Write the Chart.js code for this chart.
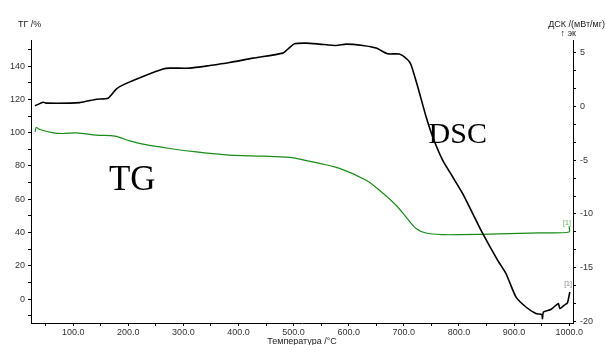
<!DOCTYPE html>
<html>
<head>
<meta charset="utf-8">
<script src="https://cdn.jsdelivr.net/npm/chart.js@4.4.1/dist/chart.umd.min.js"></script>
<style>
  html, body { margin: 0; padding: 0; background: #fff; }
  #wrap { width: 606px; height: 345px; }
</style>
</head>
<body>
<div id="wrap"><canvas id="c" width="606" height="345"></canvas></div>
<script>
// TG curve (left axis, %)
const tgTemp  = [31, 33, 39.7, 63.8, 81.9, 106.2, 142.4, 175.6, 202.7, 226.8, 275.1, 323.6, 383.9, 444.3, 492.6, 527.6, 534.9, 583.2, 631.6, 655.7, 686.0, 704.1, 722.2, 740.3, 770.4, 800.7, 873, 945.6, 999.9, 1000];
const tgValue = [100.5, 103.1, 101.9, 99.9, 99.5, 99.9, 98.5, 97.9, 95.1, 93.1, 90.5, 88.4, 86.5, 85.9, 85.1, 82.9, 82.4, 78.5, 71.4, 65.4, 56.4, 49.3, 42.4, 39.7, 38.7, 38.7, 39.2, 39.8, 40.3, 43.7];

// DSC curve (right axis, mW/mg)
const dscTemp  = [30.6, 45.6, 51.8, 112.1, 142.4, 163.4, 178.6, 190.6, 226.8, 263.1, 275.2, 311.5, 347.7, 383.9, 426.1, 480.5, 489.6, 501.7, 522.9, 547.0, 577.3, 595.4, 625.5, 649.7, 670.8, 691.9, 707.0, 713.1, 725.1, 740.3, 752.3, 770.4, 788.5, 806.6, 824.8, 839.9, 870.1, 885.3, 903.4, 921.5, 939.6, 950.5, 951.6, 953.4, 966.8, 975.9, 980.6, 983.1, 990.9, 996.9, 1001.2];
const dscValue = [0.07, 0.41, 0.32, 0.37, 0.69, 0.78, 1.65, 2.02, 2.80, 3.49, 3.58, 3.58, 3.82, 4.10, 4.51, 4.98, 5.35, 5.85, 5.91, 5.82, 5.69, 5.82, 5.69, 5.45, 4.92, 4.89, 4.36, 3.89, 1.87, -0.93, -2.80, -4.98, -6.53, -8.08, -9.94, -11.50, -14.30, -15.54, -17.72, -18.66, -19.27, -19.37, -19.74, -19.12, -18.90, -18.50, -18.34, -18.81, -18.50, -18.28, -17.26];

// tick labels
const tempTicks = [100, 200, 300, 400, 500, 600, 700, 800, 900, 1000];
const tgTicks   = [0, 20, 40, 60, 80, 100, 120, 140];
const dscTicks  = [-20, -15, -10, -5, 0, 5];

const pts = (xs, ys) => xs.map((x, i) => ({ x: x, y: ys[i] }));
const tickFont = { family: '"Liberation Sans", Arial, sans-serif', size: 9 };

// minor ticks between labelled ones
function withMinor(labels, parts, lo, hi) {
  let step = (labels[1] - labels[0]) / parts;
  let out = [];
  for (let v = labels[0] - 10 * step; v <= hi + 1e-9; v += step) {
    if (v >= lo - 1e-9) out.push(Math.round(v * 1000) / 1000);
  }
  return out;
}

const textPlugin = {
  id: 'texts',
  afterDraw(chart) {
    let ctx = chart.ctx, a = chart.chartArea;
    let x = chart.scales.x, y = chart.scales.y, y1 = chart.scales.y1;
    ctx.save();
    ctx.fillStyle = '#222';
    ctx.font = '9px "Liberation Sans", Arial, sans-serif';
    ctx.textBaseline = 'alphabetic';
    ctx.textAlign = 'left';
    ctx.fillText('ТГ /%', 18, 27);
    ctx.textAlign = 'right';
    ctx.fillText('ДСК /(мВт/мг)', 605, 27);
    ctx.fillText('↑ эк', 576, 36);
    ctx.textAlign = 'center';
    ctx.fillText('Температура /°C', (a.left + a.right) / 2, 344);

    // end markers
    ctx.font = '7px "Liberation Sans", Arial, sans-serif';
    ctx.fillStyle = '#5fb35f';
    ctx.fillText('[1]', x.getPixelForValue(996), y.getPixelForValue(44.5));
    ctx.fillStyle = '#888';
    ctx.fillText('[1]', x.getPixelForValue(998), y1.getPixelForValue(-16.7));

    // big annotations
    ctx.fillStyle = '#000';
    ctx.textAlign = 'left';
    ctx.font = '35px "Liberation Serif", "Times New Roman", serif';
    ctx.fillText('TG', x.getPixelForValue(165), y.getPixelForValue(65.5));
    ctx.font = '30px "Liberation Serif", "Times New Roman", serif';
    ctx.fillText('DSC', x.getPixelForValue(745), y1.getPixelForValue(-3.4));
    ctx.restore();
  }
};

let config = {
  type: 'line',
  data: {
    datasets: [{
      label: 'DSC',
      data: pts(dscTemp, dscValue),
      yAxisID: 'y1',
      borderColor: '#000',
      borderWidth: 1.6,
      pointRadius: 0,
      tension: 0.2
    }, {
      label: 'TG',
      data: pts(tgTemp, tgValue),
      yAxisID: 'y',
      borderColor: '#178c17',
      borderWidth: 1.2,
      pointRadius: 0,
      tension: 0.3
    }]
  },
  options: {
    responsive: false,
    animation: false,
    layout: { padding: { top: 40, left: 0, right: 0, bottom: 0 } },
    plugins: { legend: { display: false }, tooltip: { enabled: false } },
    scales: {
      x: {
        type: 'linear',
        min: 23.5,
        max: 1007,
        afterFit: s => { s.height = 22; },
        afterBuildTicks: s => { s.ticks = withMinor(tempTicks, 2, 23.5, 1007).map(v => ({ value: v })); },
        border: { display: true, color: '#000', width: 1 },
        grid: { drawOnChartArea: false, drawTicks: true, tickLength: 3, tickColor: '#000' },
        ticks: {
          color: '#333', font: tickFont, padding: 1, maxRotation: 0, autoSkip: false,
          callback: v => tempTicks.includes(v) ? v.toFixed(1) : ''
        }
      },
      y: {
        position: 'left',
        min: -14.4,
        max: 155.7,
        afterFit: s => { s.width = 31; },
        afterBuildTicks: s => { s.ticks = withMinor(tgTicks, 2, -14.4, 155.7).map(v => ({ value: v })); },
        border: { display: true, color: '#000', width: 1 },
        grid: { drawOnChartArea: false, drawTicks: true, tickLength: 3, tickColor: '#000' },
        ticks: {
          color: '#333', font: tickFont, padding: 3, autoSkip: false,
          callback: v => tgTicks.includes(v) ? String(v) : ''
        }
      },
      y1: {
        position: 'right',
        min: -20.15,
        max: 6.2,
        afterFit: s => { s.width = 33; },
        afterBuildTicks: s => { s.ticks = withMinor(dscTicks, 3, -20.15, 6.2).map(v => ({ value: v })); },
        border: { display: true, color: '#000', width: 1 },
        grid: { drawOnChartArea: false, drawTicks: true, tickLength: 3, tickColor: '#000' },
        ticks: {
          color: '#333', font: tickFont, padding: 4, autoSkip: false,
          callback: v => dscTicks.includes(v) ? String(v) : ''
        }
      }
    }
  },
  plugins: [textPlugin]
};

let chart = new Chart(document.getElementById('c'), config);
</script>
</body>
</html>
